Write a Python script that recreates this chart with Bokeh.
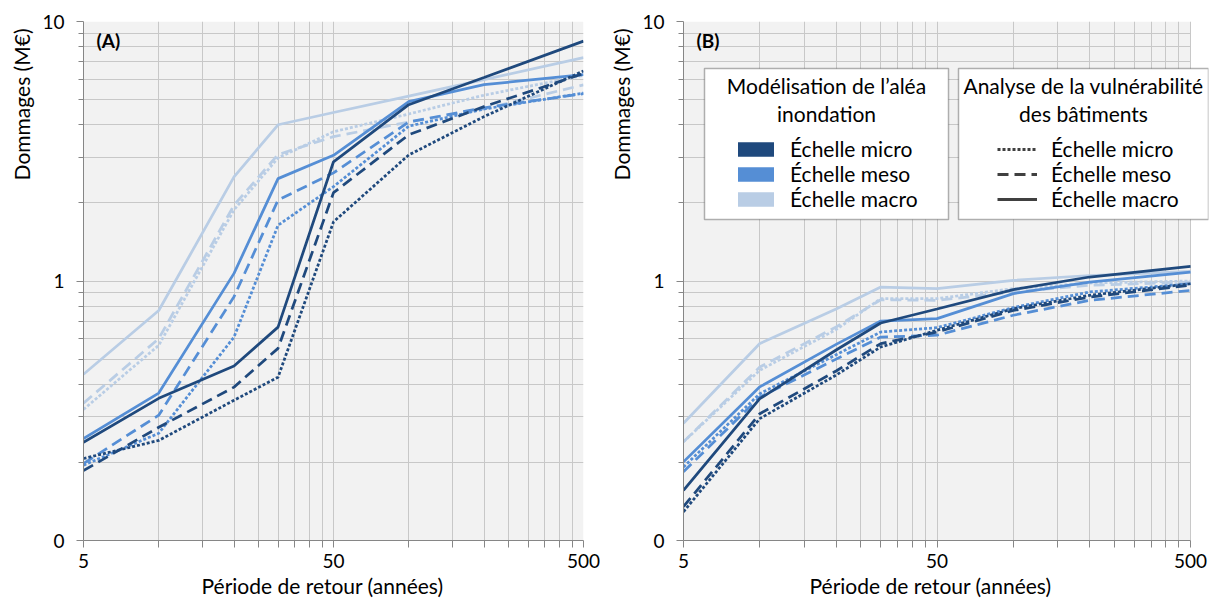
from math import pi
from bokeh.plotting import figure
from bokeh.layouts import row
from bokeh.models import (FixedTicker, CustomJSTickFormatter, Label, BoxAnnotation,
                          Legend, LegendItem, Title)
from bokeh.embed import file_html
from bokeh.resources import INLINE

# ---------------- data ----------------
return_period = [5, 10, 20, 30, 50, 100, 200, 500]

# Panel A  (hazard scale -> colour, vulnerability scale -> dash)
A_micro_micro = [0.207, 0.243, 0.347, 0.426, 1.69, 3.06, 4.3, 6.45]
A_micro_meso  = [0.186, 0.273, 0.39, 0.55, 2.19, 3.66, 4.7, 6.3]
A_micro_macro = [0.239, 0.353, 0.47, 0.664, 2.88, 4.78, 6.08, 8.4]
A_meso_micro  = [0.195, 0.259, 0.608, 1.64, 2.31, 3.95, 4.6, 5.3]
A_meso_meso   = [0.198, 0.304, 0.87, 2.05, 2.61, 4.1, 4.65, 5.27]
A_meso_macro  = [0.247, 0.37, 1.07, 2.48, 3.05, 4.91, 5.71, 6.24]
A_macro_micro = [0.32, 0.565, 1.88, 2.98, 3.76, 4.4, 5.2, 6.2]
A_macro_meso  = [0.338, 0.60, 1.96, 3.07, 3.6, 4.1, 4.6, 5.7]
A_macro_macro = [0.437, 0.77, 2.52, 4.0, 4.46, 5.16, 5.97, 7.26]

# Panel B
B_micro_micro = [0.129, 0.295, 0.434, 0.557, 0.646, 0.782, 0.881, 0.976]
B_micro_meso  = [0.135, 0.308, 0.45, 0.574, 0.636, 0.77, 0.867, 0.963]
B_micro_macro = [0.156, 0.352, 0.542, 0.689, 0.78, 0.926, 1.036, 1.138]
B_meso_micro  = [0.192, 0.368, 0.52, 0.636, 0.661, 0.79, 0.907, 0.976]
B_meso_meso   = [0.184, 0.357, 0.5, 0.608, 0.618, 0.738, 0.842, 0.92]
B_meso_macro  = [0.201, 0.391, 0.57, 0.701, 0.716, 0.894, 0.99, 1.083]
B_macro_micro = [0.24, 0.453, 0.65, 0.855, 0.855, 0.935, 0.982, 1.0]
B_macro_meso  = [0.24, 0.466, 0.665, 0.847, 0.842, 0.907, 0.963, 0.99]
B_macro_macro = [0.283, 0.574, 0.78, 0.948, 0.935, 1.006, 1.05, 1.09]

x_major = [5, 50, 500]
x_minor = [10, 15, 20, 25, 30, 35, 40, 45, 100, 150, 200, 250, 300, 350, 400, 450]
y_major = [0.1, 1, 10]
y_minor = [0.2, 0.3, 0.4, 0.5, 0.6, 0.7, 0.8, 0.9, 2, 3, 4, 5, 6, 7, 8, 9]

scale_labels = ["Échelle micro", "Échelle meso", "Échelle macro"]
hazard_title = "Modélisation de l’aléa"
hazard_title2 = "inondation"
vuln_title = "Analyse de la vulnérabilité"
vuln_title2 = "des bâtiments"
x_title = "Période de retour (années)"
y_title = "Dommages (M€)"

# ---------------- styles ----------------
FONT = "Lato"
COLORS = {"micro": "#1F497D", "meso": "#558ED5", "macro": "#B9CDE5"}
DASHES = {"micro": "3 2", "meso": "11 6", "macro": "solid"}
AXIS_GREY = "#868686"
GRID_GREY = "#C8C8C8"
PLOT_BG = "#F2F2F2"


def make_panel(data, tag, width, right_border, x_end, xtitle_offset):
    p = figure(width=width, height=602, x_axis_type="log", y_axis_type="log",
               x_range=(x_major[0], x_end), y_range=(y_major[0], y_major[-1]),
               output_backend="svg", toolbar_location=None,
               min_border_left=82, min_border_right=right_border,
               min_border_top=21, min_border_bottom=62)
    p.background_fill_color = "white"
    p.border_fill_color = "white"
    p.outline_line_color = None

    # grey plotting area limited to the axes' extent
    p.add_layout(BoxAnnotation(left=x_major[0], right=x_major[-1],
                               bottom=y_major[0], top=y_major[-1],
                               fill_color=PLOT_BG, fill_alpha=1.0, line_color=None,
                               level="image"))

    p.xaxis.ticker = FixedTicker(ticks=x_major, minor_ticks=x_minor)
    p.yaxis.ticker = FixedTicker(ticks=y_major, minor_ticks=y_minor)
    p.xaxis.formatter = CustomJSTickFormatter(code="return String(tick);")
    p.yaxis.formatter = CustomJSTickFormatter(
        code="return tick < 0.5 ? '0' : String(Math.round(tick));")
    p.xaxis.bounds = (x_major[0], x_major[-1])

    for ax in (p.xaxis[0], p.yaxis[0]):
        ax.axis_line_color = AXIS_GREY
        ax.major_tick_line_color = AXIS_GREY
        ax.minor_tick_line_color = AXIS_GREY
        ax.major_tick_in = 0
        ax.minor_tick_in = 0
        ax.major_tick_out = 7
        ax.major_label_text_font = FONT
        ax.major_label_text_font_size = "19px"
        ax.major_label_text_color = "#000000"
    p.yaxis.minor_tick_out = 5
    p.xaxis.minor_tick_out = 7
    p.yaxis.major_label_standoff = 12
    p.xaxis.major_label_standoff = 6

    for g in (p.xgrid[0], p.ygrid[0]):
        g.grid_line_color = GRID_GREY
        g.minor_grid_line_color = GRID_GREY
        g.grid_line_width = 1
        g.minor_grid_line_width = 1
    p.ygrid[0].cross_bounds = (x_major[0], x_major[-1])

    for hz in ("macro", "meso", "micro"):
        for vu in ("micro", "meso", "macro"):
            p.line(return_period, data[(hz, vu)], line_color=COLORS[hz],
                   line_width=2.75, line_dash=DASHES[vu])

    p.add_layout(Label(x=13, y=500, x_units="screen", y_units="screen", text=tag,
                       text_font=FONT, text_font_size="19px", text_font_style="bold",
                       text_color="#000000",
                       text_align="left", text_baseline="middle"))
    p.add_layout(Title(text=y_title, align="right", offset=7, standoff=12,
                       text_font=FONT, text_font_size="21px", text_font_style="normal",
                       text_color="#000000"), "left")
    p.add_layout(Title(text=x_title, align="left", offset=xtitle_offset, standoff=0,
                       text_font=FONT, text_font_size="21px", text_font_style="normal",
                       text_color="#000000"), "below")
    return p


dataA = {("micro", "micro"): A_micro_micro, ("micro", "meso"): A_micro_meso,
         ("micro", "macro"): A_micro_macro, ("meso", "micro"): A_meso_micro,
         ("meso", "meso"): A_meso_meso, ("meso", "macro"): A_meso_macro,
         ("macro", "micro"): A_macro_micro, ("macro", "meso"): A_macro_meso,
         ("macro", "macro"): A_macro_macro}
dataB = {("micro", "micro"): B_micro_micro, ("micro", "meso"): B_micro_meso,
         ("micro", "macro"): B_micro_macro, ("meso", "micro"): B_meso_micro,
         ("meso", "meso"): B_meso_meso, ("meso", "macro"): B_meso_macro,
         ("macro", "micro"): B_macro_micro, ("macro", "meso"): B_macro_meso,
         ("macro", "macro"): B_macro_macro}

pA = make_panel(dataA, "(A)", 600, 17, x_major[-1], 118)
# panel B: frame extends 18 px past the 500 tick so the legend box can overhang
pB = make_panel(dataB, "(B)", 610, 2, x_major[-1] * 10 ** (2 * 18 / 508), 126)

# ---------------- legends (panel B) ----------------
for left, right in ((21, 265), (275, 525)):
    pB.add_layout(BoxAnnotation(left=left, right=right, top=472, bottom=321,
                                left_units="screen", right_units="screen",
                                top_units="screen", bottom_units="screen",
                                fill_color="white", fill_alpha=1.0,
                                line_color="#000000", line_width=1.5))

for cx, t1, t2 in ((143, hazard_title, hazard_title2), (400, vuln_title, vuln_title2)):
    pB.add_layout(Label(x=cx, y=455, x_units="screen", y_units="screen", text=t1,
                        text_font=FONT, text_font_size="21px", text_color="#000000",
                        text_align="center", text_baseline="middle"))
    pB.add_layout(Label(x=cx, y=427, x_units="screen", y_units="screen", text=t2,
                        text_font=FONT, text_font_size="21px", text_color="#000000",
                        text_align="center", text_baseline="middle"))

items1, items2 = [], []
for lab, key in zip(scale_labels, ("micro", "meso", "macro")):
    r1 = pB.quad(left=[return_period[0]], right=[return_period[1]],
                 top=[y_major[1]], bottom=[y_major[0]],
                 fill_color=COLORS[key], line_color=None, visible=False)
    items1.append(LegendItem(label=lab, renderers=[r1]))
    r2 = pB.line(x=return_period[:2], y=[y_major[1], y_major[1]], line_color="#404040",
                 line_width=3, line_dash=DASHES[key], visible=False)
    items2.append(LegendItem(label=lab, renderers=[r2]))

for items, x0, gw, so in ((items1, 50, 45, 12), (items2, 314, 40, 14)):
    lg = Legend(items=items, location=(x0, 329), glyph_width=gw, glyph_height=18,
                label_height=22, spacing=0, label_standoff=so, padding=0, margin=0,
                border_line_color=None, background_fill_alpha=0,
                label_text_font=FONT, label_text_font_size="21px",
                label_text_color="#000000")
    pB.add_layout(lg)

layout = row(pA, pB)
open("out.html", "w").write(file_html(layout, INLINE))
